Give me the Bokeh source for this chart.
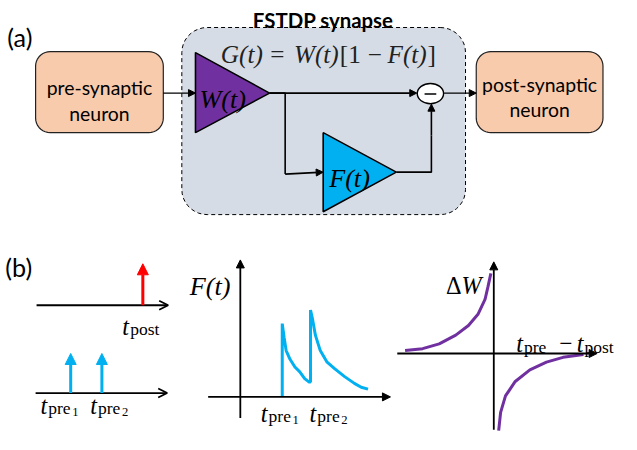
import numpy as np
from bokeh.plotting import figure
from bokeh.models import Range1d, Arrow, NormalHead, OpenHead
from bokeh.core.properties import value
from bokeh.embed import file_html
from bokeh.resources import INLINE

# ---------------- data (image pixel coords) ----------------
panel_labels = ["(a)", "(b)"]
title_text = "FSTDP synapse"
formula_parts = ["G(t)", "=", "W(t)", "[1", "\u2212", "F(t)", "]"]
pre_lines = ["pre-synaptic", "neuron"]
post_lines = ["post-synaptic", "neuron"]

# spike times on the left raster
post_spike_x = [146]
pre_spike_x = [72, 104]

# F(t) curve (middle panel)
F_x = [289, 289, 291, 293, 297, 302, 307, 312, 317, 318, 318, 320, 323, 328, 335, 343, 353, 363, 370, 377]
F_y = [411, 335, 350, 363, 372, 380, 385, 392, 396, 395, 321, 330, 347, 363, 375, 382, 390, 397, 401, 403]

# STDP window (right panel)
dW_left_x = [415, 433, 450, 467, 480, 490, 497, 500, 503]
dW_left_y = [363, 361, 356, 347, 337, 325, 310, 297, 283]
dW_right_x = [511, 513, 518, 528, 543, 560, 577, 598]
dW_right_y = [446, 427, 410, 395, 383, 375, 370, 367]

# ---------------- styles ----------------
PEACH = "#f8cbad"
SYN = "#d6dce5"
PURPLE = "#7030a0"
BLUE = "#00b0f0"
RED = "#ff0000"
SANS = "Lato"
SERIF = "Liberation Serif"
S = 0.97  # font scale (picture is fitted into 621x434)

p = figure(width=621, height=434, x_range=Range1d(0, 637), y_range=Range1d(450, 0),
           output_backend="svg", toolbar_location=None, min_border=0,
           x_axis_location=None, y_axis_location=None)
p.grid.visible = False
p.outline_line_color = None
p.background_fill_color = "white"


def rrect(x0, y0, x1, y1, r, n=10):
    xs, ys = [], []
    corners = [(x1 - r, y0 + r, -90, 0), (x1 - r, y1 - r, 0, 90),
               (x0 + r, y1 - r, 90, 180), (x0 + r, y0 + r, 180, 270)]
    for cx, cy, a0, a1 in corners:
        for a in np.linspace(np.radians(a0), np.radians(a1), n):
            xs.append(cx + r * np.cos(a))
            ys.append(cy + r * np.sin(a))
    return xs, ys


def T(x, y, s, size, font=SANS, style="normal", align="left", baseline="alphabetic", color="black"):
    p.text(x=[x], y=[y], text=[s], text_font=value(font), text_font_size=f"{size * S:.1f}px",
           text_font_style=style, text_align=align, text_baseline=baseline, text_color=color)


def arrow(x0, y0, x1, y1, head="normal", size=8, lw=1.6, color="black"):
    if head == "normal":
        h = NormalHead(size=size, fill_color=color, line_color=color, line_width=1)
    else:
        h = OpenHead(size=size, line_color=color, line_width=lw)
    p.add_layout(Arrow(end=h, x_start=x0, y_start=y0, x_end=x1, y_end=y1,
                       line_color=color, line_width=lw))


# ---------------- panel (a) ----------------
T(7, 38, panel_labels[0], 26)

# synapse dashed box
xs, ys = rrect(186, 28, 477, 222, 26)
p.patch(xs, ys, fill_color=SYN, line_color="black", line_width=1, line_dash="4 3")
T(331, 20.5, title_text, 21, style="bold", align="center")

# neuron boxes
for (x0, x1), lines, bl in [((36, 167), pre_lines, (90.5, 117.5)), ((488, 618), post_lines, (87, 113))]:
    xs, ys = rrect(x0, 53, x1, 137, 15)
    p.patch(xs, ys, fill_color=PEACH, line_color="#222222", line_width=1.2)
    T((x0 + x1) / 2, bl[0], lines[0], 20, align="center")
    T((x0 + x1) / 2, bl[1], lines[1], 20, align="center")

# formula G(t) = W(t)[1 - F(t)], set piece by piece
f_pos = [(226, "left", "italic"), (284, "center", "normal"), (301, "left", "italic"),
         (348, "left", "normal"), (384, "center", "normal"), (397, "left", "italic"),
         (438, "left", "normal")]
for part, (fx, al, st) in zip(formula_parts, f_pos):
    T(fx, 56, part, 26, font=SERIF, style=st, align=al, color="#222222")

# connections
arrow(167, 96, 200, 96, size=7, lw=1.4)
p.line([276, 292, 292], [96, 96, 180], line_color="black", line_width=1.6)
arrow(276, 96, 427, 96, size=7)
arrow(292, 180, 331, 178, size=7)
p.line([406, 442, 442], [178, 178, 140], line_color="black", line_width=1.6)
arrow(442, 140, 442, 107.5, size=7)
arrow(455, 96, 488, 96, size=7, lw=1.4)

# amplifiers
p.patch([200, 200, 276], [54, 137, 96], fill_color=PURPLE, line_color="black", line_width=1.6)
p.patch([331, 331, 406], [137, 219, 178], fill_color=BLUE, line_color="black", line_width=1.6)
T(228, 103, "W(t)", 27, font=SERIF, style="italic", align="center")
T(358, 185, "F(t)", 27, font=SERIF, style="italic", align="center")

# subtraction node
p.ellipse([441], [96.5], width=27, height=21, fill_color="white", line_color="black", line_width=1.4)
p.line([435, 447], [97, 97], line_color="black", line_width=1.5)

# ---------------- panel (b) ----------------
T(5, 276, panel_labels[1], 26)

# left raster
arrow(37, 316, 172, 316, head="open", size=9, lw=1.8)
arrow(36, 407, 171, 407, head="open", size=9, lw=1.8)
for sx in post_spike_x:
    arrow(sx, 316, sx, 273, size=11, lw=3, color=RED)
for sx in pre_spike_x:
    arrow(sx, 407, sx, 366, size=11, lw=3, color=BLUE)


def t_label(x, y, sub, subsub=None):
    T(x, y, "t", 25, font=SERIF, style="italic")
    T(x + 8, y + 3, sub, 18, font=SERIF)
    if subsub:
        T(x + 8 + len(sub) * 8.2, y + 7, subsub, 13, font=SERIF)


t_label(125, 338, "post")
t_label(41, 420, "pre", "1")
t_label(92, 420, "pre", "2")

# middle: F(t)
arrow(246, 433, 246, 269, size=8, lw=1.8)
arrow(213, 411, 400, 411, size=8, lw=1.8)
T(215, 297, "F(t)", 27, font=SERIF, style="italic", align="center")
p.line(F_x, F_y, line_color=BLUE, line_width=3)
t_label(267, 428, "pre", "1")
t_label(317, 428, "pre", "2")

# right: STDP window
arrow(506, 445, 506, 271, size=8, lw=1.8)
arrow(407, 366, 612, 366, size=8, lw=1.8)
p.line(dW_left_x, dW_left_y, line_color=PURPLE, line_width=3)
p.line(dW_right_x, dW_right_y, line_color=PURPLE, line_width=3)
T(457, 295, "\u0394", 25, font=SERIF)
T(473, 295, "W", 25, font=SERIF, style="italic")
t_label(529, 356, "pre")
T(580, 356, "\u2212", 24, font=SERIF, align="center")
t_label(591, 356, "post")

open("out.html", "w").write(file_html(p, INLINE))
